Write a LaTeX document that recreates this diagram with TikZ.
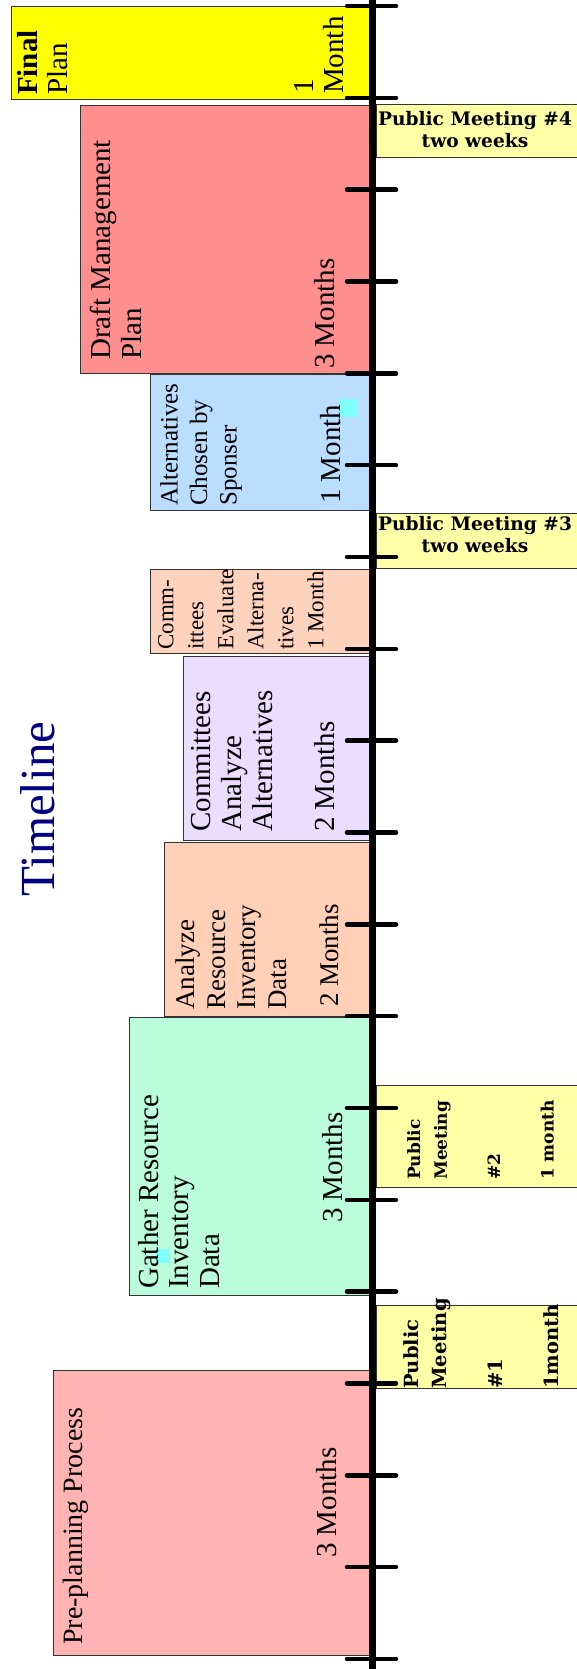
\documentclass[tikz,border=0pt]{standalone}
\usepackage{fontspec}
\setmainfont{Liberation Serif}
\newfontfamily\meetfont{DejaVu Serif}
\definecolor{boxline}{HTML}{333333}
\definecolor{cfin}{HTML}{FFFF00}
\definecolor{cdmp}{HTML}{FF8E8E}
\definecolor{calt}{HTML}{BBDDFF}
\definecolor{ccev}{HTML}{FFD2BD}
\definecolor{ccan}{HTML}{EADDFF}
\definecolor{cari}{HTML}{FFCFB8}
\definecolor{cgri}{HTML}{BBFCDD}
\definecolor{cpre}{HTML}{FFB3B3}
\definecolor{meetfill}{HTML}{FFFFA8}
\definecolor{ccyan}{HTML}{80FFFF}
\definecolor{navytext}{HTML}{000080}
\begin{document}
\begin{tikzpicture}[
        x=1pt, y=-1pt,
        font=\fontsize{29}{30.5}\selectfont
    ]
    \tikzset{
        mybox/.style = {rectangle, draw=boxline, line width=0.8pt, inner sep=0pt, outer sep=0pt, anchor=north west},
        myboxm/.style = {mybox, fill=meetfill, minimum width=204pt},
        mytext/.style = {rotate=90, anchor=north west, align=left, inner sep=0pt},
        mytextm/.style = {mytext, font=\meetfont\bfseries\fontsize{17}{26.7}\selectfont},
        mytexth/.style = {align=center, anchor=north, inner sep=0pt, font=\meetfont\bfseries\fontsize{18.6}{22}\selectfont},
        edgea/.style = {-, line width=7pt},
        edget/.style = {-, line width=4.5pt, line cap=round},
    }
    \useasboundingbox (0,0) rectangle (577,1669);
    % phases
    \node[mybox, fill=cfin, minimum width=361pt, minimum height=93pt] (fin) at (11,6) {};
    \node[mybox, fill=cdmp, minimum width=292pt, minimum height=268pt] (dmp) at (80,105) {};
    \node[mybox, fill=calt, minimum width=222pt, minimum height=136pt] (alt) at (150,374) {};
    \node[mybox, fill=ccev, minimum width=222pt, minimum height=84pt] (cev) at (150,569) {};
    \node[mybox, fill=ccan, minimum width=189pt, minimum height=184pt] (can) at (183,656) {};
    \node[mybox, fill=cari, minimum width=208pt, minimum height=174pt] (ari) at (164,842) {};
    \node[mybox, fill=cgri, minimum width=243pt, minimum height=278pt] (gri) at (129,1017) {};
    \node[mybox, fill=cpre, minimum width=319pt, minimum height=285pt] (pre) at (53,1370) {};
    \node[rectangle, fill=ccyan, inner sep=0pt, minimum size=18pt, anchor=north west] (sqa) at (340,399) {};
    \node[rectangle, fill=ccyan, inner sep=0pt, minimum size=14pt, anchor=north west] (sqg) at (156,1249) {};
    %
    \node[mytext] (tfin) at (17,95) {\textbf{Final}\\Plan};
    \node[mytext] (dfin) at (294,94) {1\\Month};
    \node[mytext] (tdmp) at (90,360) {Draft Management\\Plan};
    \node[mytext] (ddmp) at (314,369) {3 Months};
    \node[mytext, font=\fontsize{25}{29.5}\selectfont] (talt) at (160,506) {Alternatives\\Chosen by\\Sponser};
    \node[mytext] (dalt) at (320,504) {1 Month};
    \node[mytext, font=\fontsize{23}{30}\selectfont] (tcev) at (158,650) {Comm-\\ittees\\Evaluate\\Alterna-\\tives\\1 Month};
    \node[mytext, font=\fontsize{29}{31}\selectfont] (tcan) at (191,832) {Committees\\Analyze\\Alternatives\\[31pt]2 Months};
    \node[mytext, font=\fontsize{27}{30.5}\selectfont] (tari) at (176,1010) {Analyze\\Resource\\Inventory\\Data};
    \node[mytext, font=\fontsize{27}{30.5}\selectfont] (dari) at (320,1007) {2 Months};
    \node[mytext] (tgri) at (138,1289) {Gather Resource\\Inventory\\Data};
    \node[mytext] (dgri) at (322,1223) {3 Months};
    \node[mytext, font=\fontsize{28}{30}\selectfont] (tpre) at (63,1645) {Pre-planning Process};
    \node[mytext] (dpre) at (316,1558) {3 Months};
    % public meetings
    \node[myboxm, minimum height=53pt] (pm4) at (376,104) {};
    \node[mytexth] (tpm4) at (475,111) {Public Meeting \#4\\two weeks};
    \node[myboxm, minimum height=55pt] (pm3) at (376,513) {};
    \node[mytexth] (tpm3) at (475,516) {Public Meeting \#3\\two weeks};
    \node[myboxm, minimum height=102pt] (pm2) at (376,1085) {};
    \node[mytextm] (tpm2) at (407,1180) {Public\\Meeting\\[26.7pt]\#2\\[26.7pt]1 month};
    \node[myboxm, minimum height=83pt] (pm1) at (376,1305) {};
    \node[mytextm, font=\meetfont\bfseries\fontsize{19.5}{28}\selectfont] (tpm1) at (403,1389) {Public\\Meeting\\[28pt]\#1\\[28pt]1month};
    %
    \node[mytext, font=\fontsize{49}{55}\selectfont, text=navytext] (ttl) at (20,897) {Timeline};
    % axis and ticks
    \coordinate (top) at (372.5,0);
    \coordinate (bot) at (372.5,1669);
    \draw[edgea] (top) -- (bot);
    \foreach \i in {0,...,18} {
        \draw[edget] (347,{6+91.83*\i}) -- (396,{6+91.83*\i});
    }
\end{tikzpicture}
\end{document}
